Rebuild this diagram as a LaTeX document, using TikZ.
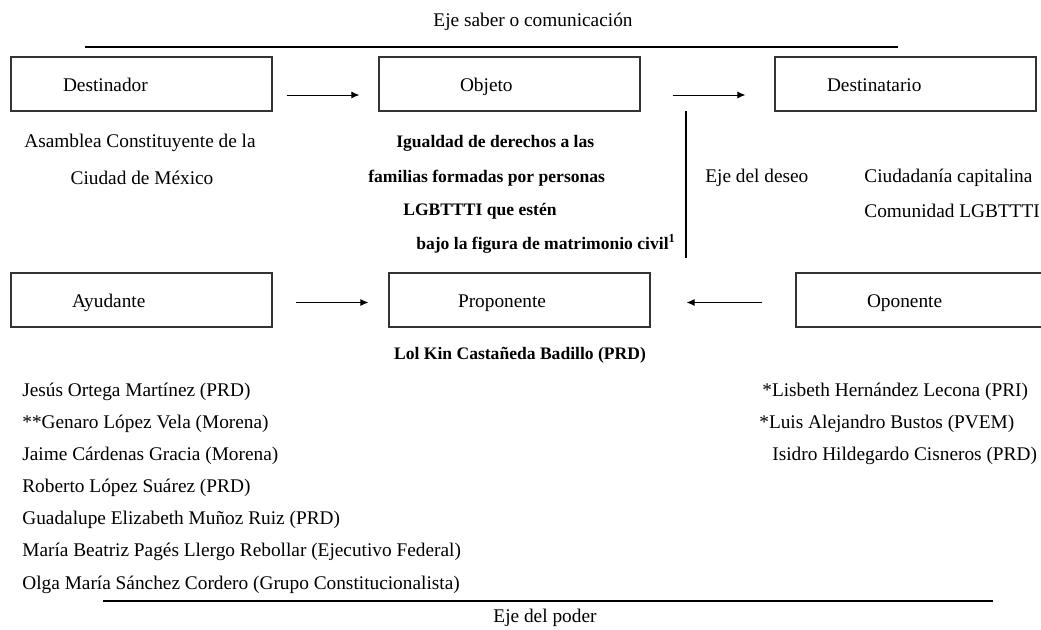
\documentclass[tikz,border=0pt]{standalone}
\usepackage{fontspec}
\setmainfont{Liberation Serif}
\usetikzlibrary{arrows.meta,positioning}

\begin{document}
\begin{tikzpicture}[x=0.02cm,y=-0.02cm,font=\fontsize{11}{13}\selectfont,
  s/.style={rectangle,draw=black!80,line width=0.8pt,minimum height=1.08cm,
            inner xsep=#1,text width=5.22cm-2*#1,align=left,
            text height=2.1ex,text depth=0.2ex},
  a/.style={-{Latex[length=4.5pt,width=4pt]},line width=0.5pt},
  t/.style={inner sep=0pt,anchor=west},
  tb/.style={t,font=\fontsize{10}{12}\selectfont\bfseries}]

  \useasboundingbox (0,0) rectangle (1041,629);

  % eje saber o comunicacion
  \node (ejesab) at (533,22) {Eje saber o comunicación};
  \draw[line width=1.1pt] (85,47) -- (898,47);

  \node[s=1.04cm] (dor) at (141.5,84) {Destinador};
  \node[s=1.62cm] (obj) at (509.5,84) {Objeto};
  \node[s=1.04cm] (dio) at (905.5,84) {Destinatario};

  \draw[a,shorten <=0.28cm,shorten >=0.38cm] ([yshift=-0.22cm]dor.east) -- ([yshift=-0.22cm]obj.west);
  \draw[a,shorten <=0.64cm,shorten >=0.58cm] ([yshift=-0.22cm]obj.east) -- ([yshift=-0.22cm]dio.west);

  % eje del deseo
  \draw[line width=0.6pt] (686,111) -- (686,258);

  \node (asam1) at (140,143) {Asamblea Constituyente de la};
  \node (asam2) at (142,178) {Ciudad de México};

  \node[tb] (ob1) at (396,143) {Igualdad de derechos a las};
  \node[tb] (ob2) at (368,178) {familias formadas por personas};
  \node[tb] (ob3) at (403,211) {LGBTTTI que estén};
  \node[tb,anchor=east] (ob4) at (676,244) {bajo la figura de matrimonio civil\textsuperscript{1}};

  \node[t] (ejedes) at (705,178) {Eje del deseo};
  \node[t] (ciu1) at (864,178) {Ciudadanía capitalina};
  \node[t] (ciu2) at (864,211) {Comunidad LGBTTTI};

  \node[s=1.22cm] (ayu) at (141.5,300) {Ayudante};
  \node[s=1.38cm] (pro) at (519.5,300) {Proponente};
  \node[s=1.42cm] (opo) at (926.5,300) {Oponente};

  \draw[a,shorten <=0.46cm,shorten >=0.4cm] ([yshift=-0.05cm]ayu.east) -- ([yshift=-0.05cm]pro.west);
  \draw[a,shorten <=0.66cm,shorten >=0.72cm] ([yshift=-0.05cm]opo.west) -- ([yshift=-0.05cm]pro.east);

  \node[font=\fontsize{10}{12}\selectfont\bfseries] (lol) at (520,355) {Lol Kin Castañeda Badillo (PRD)};

  % ayudantes
  \node[t] (ay1) at (22,392) {Jesús Ortega Martínez (PRD)};
  \node[t] (ay2) at (22,424) {**Genaro López Vela (Morena)};
  \node[t] (ay3) at (22,456) {Jaime Cárdenas Gracia (Morena)};
  \node[t] (ay4) at (22,488) {Roberto López Suárez (PRD)};
  \node[t] (ay5) at (22,520) {Guadalupe Elizabeth Muñoz Ruiz (PRD)};
  \node[t] (ay6) at (22,552) {María Beatriz Pagés Llergo Rebollar (Ejecutivo Federal)};
  \node[t] (ay7) at (22,585) {Olga María Sánchez Cordero (Grupo Constitucionalista)};

  % oponentes
  \node[t] (op1) at (762,392) {*Lisbeth Hernández Lecona (PRI)};
  \node[t] (op2) at (759,424) {*Luis Alejandro Bustos (PVEM)};
  \node[t] (op3) at (772,456) {Isidro Hildegardo Cisneros (PRD)};

  % eje del poder
  \draw[line width=0.8pt] (103,601) -- (993,601);
  \node (ejepod) at (545,618) {Eje del poder};
\end{tikzpicture}
\end{document}
